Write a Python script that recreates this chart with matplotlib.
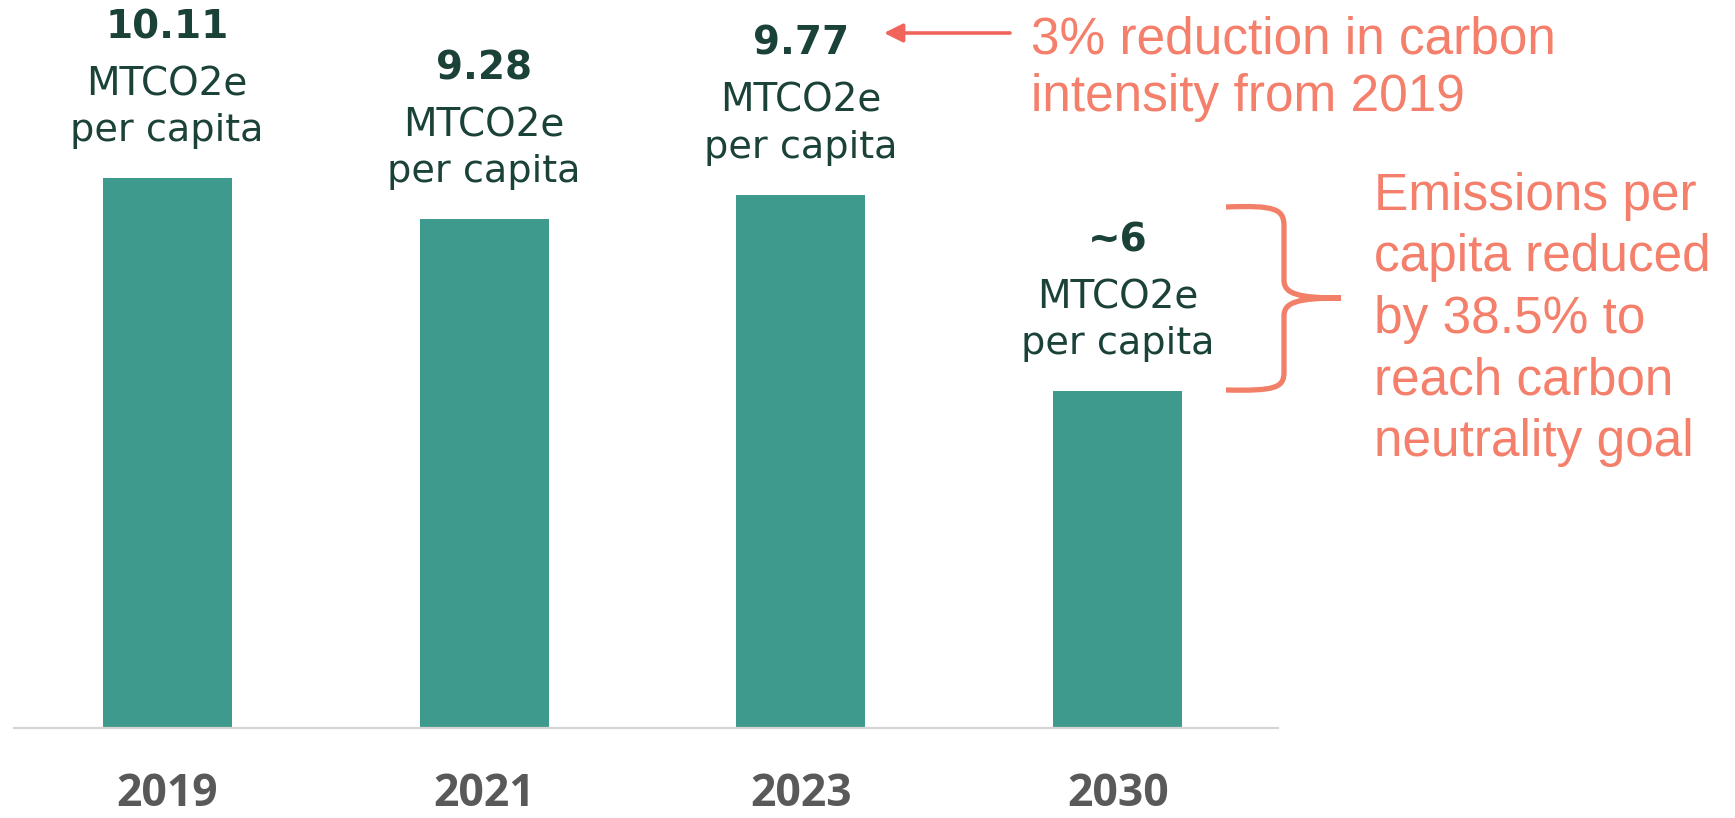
import matplotlib.pyplot as plt
import numpy as np
from matplotlib.path import Path
from matplotlib.patches import PathPatch

# data
years = ["2019", "2021", "2023", "2030"]
values = [10.11, 9.28, 9.77, 5.8]
value_labels = ["10.11", "9.28", "9.77", "~6"]
unit_lines = ["MTCO2e", "per capita"]
note_top = ["3% reduction in carbon", "intensity from 2019"]
note_right = ["Emissions per", "capita reduced", "by 38.5% to", "reach carbon", "neutrality goal"]

y_base = -1.02  # value axis does not start at zero
teal = '#3F9A8E'
dark = '#1B4239'
salmon = '#F47F6B'

W, H = 1735, 818
fig = plt.figure(figsize=(W / 100, H / 100), dpi=100)

# main bar axes (pixel extents of the reference)
ax = fig.add_axes([14 / W, 1 - 728 / H, (1278 - 14) / W, 728 / H])
x = np.arange(len(years))
heights = np.array(values) - y_base
ax.bar(x, heights, bottom=y_base, width=0.407, color=teal, zorder=2)
ax.set_xlim(-0.483, 3.505)
ax.set_ylim(y_base, y_base + 728 / 49.4)
for s in ['top', 'left', 'right']:
    ax.spines[s].set_visible(False)
ax.spines['bottom'].set_color('#D4D4D4')
ax.spines['bottom'].set_linewidth(1.6)
ax.set_xticks(x, years)
ax.tick_params(axis='x', length=0, pad=32, labelsize=32, labelcolor='#595959')
for t in ax.get_xticklabels():
    t.set_fontfamily('Open Sans')
    t.set_fontweight('bold')
ax.set_yticks([])

for xi, v, lab in zip(x, values, value_labels):
    ax.annotate(lab, (xi, v), xytext=(0, 140), textcoords='offset pixels',
                ha='center', va='baseline', fontsize=28, fontweight='bold',
                color=dark, family='DejaVu Sans')
    ax.annotate(unit_lines[0], (xi, v), xytext=(0, 83), textcoords='offset pixels',
                ha='center', va='baseline', fontsize=28, color=dark, family='DejaVu Sans')
    ax.annotate(unit_lines[1], (xi, v), xytext=(0, 37), textcoords='offset pixels',
                ha='center', va='baseline', fontsize=27.5, color=dark, family='DejaVu Sans')

# overlay in pixel coordinates for the callouts
ov = fig.add_axes([0, 0, 1, 1])
ov.set_xlim(0, W)
ov.set_ylim(H, 0)
ov.axis('off')
ov.patch.set_alpha(0)

for i, line in enumerate(note_top):
    ov.text(1031, 53 + i * 58, line, ha='left', va='baseline', fontsize=37,
            color=salmon, family='Liberation Sans')
for i, line in enumerate(note_right):
    ov.text(1374, 210 + i * 61.5, line, ha='left', va='baseline', fontsize=37,
            color=salmon, family='Liberation Sans')

ov.annotate('', xy=(884, 33), xytext=(1010, 33),
            arrowprops=dict(arrowstyle='-|>', color='#F0645C', lw=2.6, mutation_scale=28,
                            shrinkA=0, shrinkB=0))

verts = [(1226, 207), (1275, 205), (1284, 209), (1284, 226),
         (1284, 280),
         (1284, 294), (1298, 298), (1341, 298),
         (1341, 298),
         (1298, 298), (1284, 302), (1284, 316),
         (1284, 372),
         (1284, 388), (1275, 391), (1226, 390)]
codes = [Path.MOVETO, Path.CURVE4, Path.CURVE4, Path.CURVE4,
         Path.LINETO,
         Path.CURVE4, Path.CURVE4, Path.CURVE4,
         Path.MOVETO,
         Path.CURVE4, Path.CURVE4, Path.CURVE4,
         Path.LINETO,
         Path.CURVE4, Path.CURVE4, Path.CURVE4]
ov.add_patch(PathPatch(Path(verts, codes), fill=False, edgecolor='#F28068', lw=3.8,
                       capstyle='butt'))

fig.savefig("out.png", dpi=100)
